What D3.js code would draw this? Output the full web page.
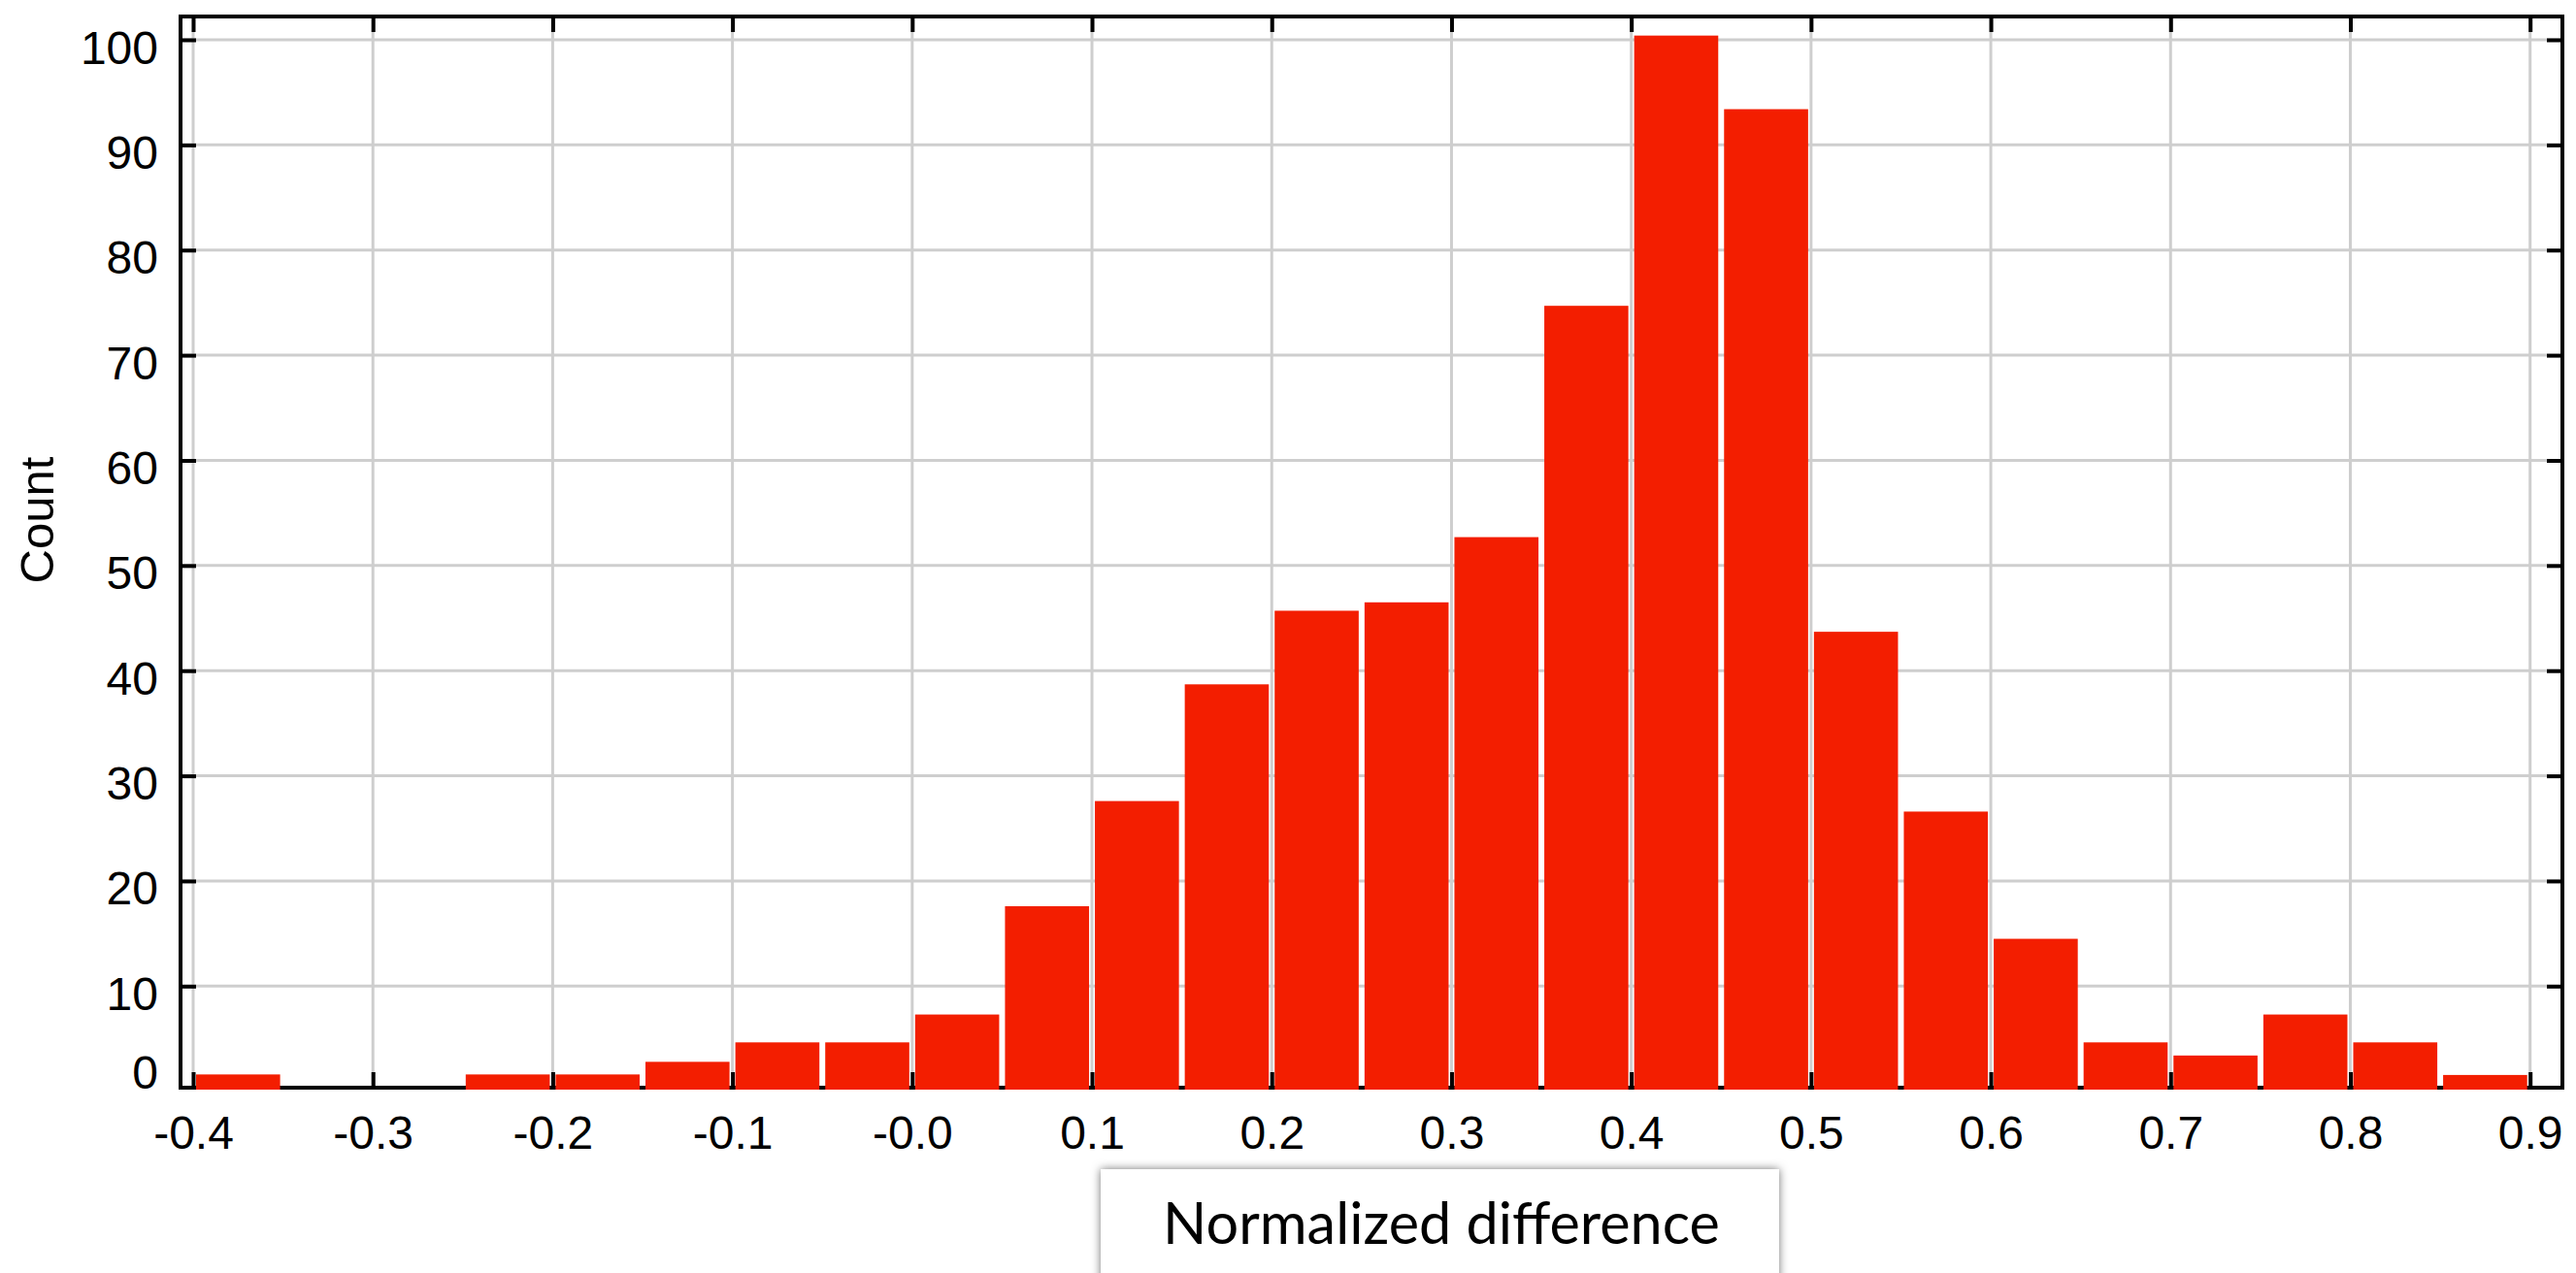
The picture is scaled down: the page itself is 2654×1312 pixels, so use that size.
<!DOCTYPE html>
<html>
<head>
<meta charset="utf-8">
<script src="https://cdn.jsdelivr.net/npm/d3@7"></script>
<style>
  html, body { margin: 0; padding: 0; background: #ffffff; }
  svg { display: block; }
</style>
</head>
<body>
<svg id="chart" width="2654" height="1312"></svg>
<script>
// ---- data ----
const binStarts = [-0.40, -0.35, -0.30, -0.25, -0.20, -0.15, -0.10, -0.05, 0.00, 0.05,
                    0.10,  0.15,  0.20,  0.25,  0.30,  0.35,  0.40,  0.45, 0.50, 0.55,
                    0.60,  0.65,  0.70,  0.75,  0.80,  0.85];
const binWidth = 0.05;
const counts = [1.6, 0, 0, 1.6, 1.6, 2.8, 4.65, 4.65, 7.3, 17.6,
                27.6, 38.7, 45.7, 46.5, 52.7, 74.7, 100.4, 93.4, 43.7, 26.6,
                14.5, 4.65, 3.4, 7.3, 4.65, 1.55];
const xTicks = [-0.4, -0.3, -0.2, -0.1, 0.0, 0.1, 0.2, 0.3, 0.4, 0.5, 0.6, 0.7, 0.8, 0.9];
const xTickLabels = ["-0.4", "-0.3", "-0.2", "-0.1", "-0.0", "0.1", "0.2", "0.3", "0.4", "0.5", "0.6", "0.7", "0.8", "0.9"];
const yTicks = [0, 10, 20, 30, 40, 50, 60, 70, 80, 90, 100];
const yTickLabels = ["0", "10", "20", "30", "40", "50", "60", "70", "80", "90", "100"];
const xTitle = "Normalized difference";
const yTitle = "Count";

// ---- layout ----
const frame = { left: 186, right: 2640, top: 17, bottom: 1121 };
const x = d3.scaleLinear().domain([-0.4, 0.9]).range([199, 2606.7]);
const y = d3.scaleLinear().domain([0, 100]).range([1124.7, 41]);

const svg = d3.select("#chart");
const tickFont = "'Liberation Sans', Arial, Helvetica, sans-serif";

// grid
const grid = svg.append("g").attr("stroke", "#cecece").attr("stroke-width", 3);
grid.selectAll("line.v").data(xTicks).join("line")
  .attr("x1", d => x(d)).attr("x2", d => x(d))
  .attr("y1", frame.top).attr("y2", frame.bottom);
grid.selectAll("line.h").data(yTicks.filter(d => d > 0)).join("line")
  .attr("x1", frame.left).attr("x2", frame.right)
  .attr("y1", d => y(d)).attr("y2", d => y(d));

// frame
svg.append("rect")
  .attr("x", frame.left).attr("y", frame.top)
  .attr("width", frame.right - frame.left).attr("height", frame.bottom - frame.top)
  .attr("fill", "none").attr("stroke", "#000").attr("stroke-width", 4);

const tickLen = 16;
function styleAxis(g) {
  g.select(".domain").remove();
  g.selectAll(".tick line").attr("stroke", "#000").attr("stroke-width", 4);
}

// bottom axis
const axB = svg.append("g").attr("transform", `translate(0,${frame.bottom})`)
  .call(d3.axisBottom(x).tickValues(xTicks).tickSize(-tickLen)
        .tickFormat((d, i) => xTickLabels[i]));
styleAxis(axB);
axB.selectAll(".tick text")
  .attr("y", 63).attr("dy", null)
  .attr("font-family", tickFont).attr("font-size", 48).attr("fill", "#000");

// top axis
const axT = svg.append("g").attr("transform", `translate(0,${frame.top})`)
  .call(d3.axisTop(x).tickValues(xTicks).tickSize(-tickLen).tickFormat(""));
styleAxis(axT);

// left axis
const axL = svg.append("g").attr("transform", `translate(${frame.left},0)`)
  .call(d3.axisLeft(y).tickValues(yTicks).tickSize(-tickLen)
        .tickFormat((d, i) => yTickLabels[i]));
styleAxis(axL);
axL.selectAll(".tick line").filter(d => d === 0).remove();
axL.selectAll(".tick text")
  .attr("x", -23).attr("dy", d => d === 0 ? -3 : 24)
  .attr("font-family", tickFont).attr("font-size", 48).attr("fill", "#000");

// right axis
const axR = svg.append("g").attr("transform", `translate(${frame.right},0)`)
  .call(d3.axisRight(y).tickValues(yTicks).tickSize(-tickLen).tickFormat(""));
styleAxis(axR);
axR.selectAll(".tick line").filter(d => d === 0).remove();

// bars (drawn over the bottom frame line)
const inset = 3;
svg.append("g").selectAll("rect").data(binStarts.map((s, i) => ({ s, v: counts[i] })).filter(d => d.v > 0))
  .join("rect")
  .attr("x", d => x(d.s) + inset)
  .attr("width", d => x(d.s + binWidth) - x(d.s) - 2 * inset)
  .attr("y", d => y(d.v))
  .attr("height", d => (frame.bottom + 2) - y(d.v))
  .attr("fill", "#f31e00");

// y title
svg.append("text")
  .attr("transform", "translate(55,536) rotate(-90)")
  .attr("text-anchor", "middle")
  .attr("font-family", tickFont).attr("font-size", 49).attr("fill", "#000")
  .text(yTitle);

// x title in a shadowed box
const defs = svg.append("defs");
const f = defs.append("filter").attr("id", "shadow")
  .attr("x", "-10%").attr("y", "-30%").attr("width", "120%").attr("height", "160%");
f.append("feDropShadow").attr("dx", 0).attr("dy", 0).attr("stdDeviation", 5)
  .attr("flood-color", "#000").attr("flood-opacity", 0.55);

svg.append("rect")
  .attr("x", 1134).attr("y", 1205).attr("width", 699).attr("height", 160)
  .attr("fill", "#fff").attr("filter", "url(#shadow)");

const xt = svg.append("text")
  .attr("x", 1485).attr("y", 1282)
  .attr("text-anchor", "middle")
  .attr("font-family", "'Gill Sans', 'Gill Sans MT', Lato, sans-serif")
  .attr("font-size", 58).attr("fill", "#000")
  .text(xTitle);
const w = xt.node().getComputedTextLength();
xt.attr("font-size", 58 * 574 / w);
</script>
</body>
</html>
